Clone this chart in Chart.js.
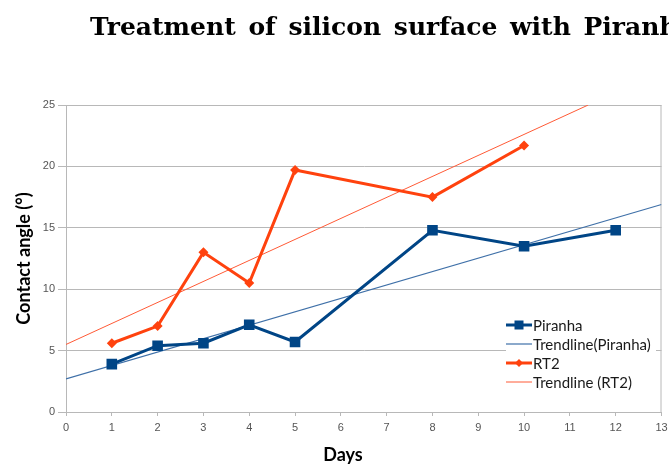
<!DOCTYPE html>
<html lang="en">
<head>
  <meta charset="UTF-8">
  <title>Treatment of silicon surface</title>
  <script src="https://cdn.jsdelivr.net/npm/chart.js"></script>
  <style>
    body {
      margin: 0;
      background: #ffffff;
      overflow: hidden;
    }
    .wrap {
      position: relative;
      width: 669px;
      height: 464px;
      overflow: hidden;
    }
    .title {
      position: absolute;
      left: 90px;
      top: 14px;
      white-space: nowrap;
      font-family: 'DejaVu Serif', serif;
      font-weight: bold;
      font-size: 25px;
      line-height: 1;
      word-spacing: 4px;
      color: #000;
    }
    canvas {
      position: absolute;
      left: 0;
      top: 0;
    }
  </style>
</head>
<body>

  <div class="wrap">
    <canvas id="angleChart" width="669" height="464"></canvas>
    <div class="title">Treatment of silicon surface with Piranha and RT2</div>
  </div>

  <script>
    // Contact angle measurements
    const piranhaDays = [1, 2, 3, 4, 5, 8, 10, 12];
    const piranhaAngle = [3.9, 5.4, 5.6, 7.1, 5.7, 14.8, 13.5, 14.8];

    const rt2Days = [1, 2, 3, 4, 5, 8, 10];
    const rt2Angle = [5.6, 7.0, 13.0, 10.5, 19.7, 17.5, 21.7];

    // Trendline end points
    const trendPiranhaX = [0, 13];
    const trendPiranhaY = [2.7, 16.9];
    const trendRt2X = [0, 11.4];
    const trendRt2Y = [5.5, 25];

    const yTicks = [0, 5, 10, 15, 20, 25];
    const xMax = 13;

    const blue = '#004586';
    const orange = '#ff420e';
    const gridGray = '#b8b8b8';

    const toPoints = (xs, ys) => xs.map((x, i) => ({ x: x, y: ys[i] }));

    // Frame round the plot area, plus the x axis caption
    const frame = {
      id: 'frame',
      beforeDatasetsDraw(chart) {
        const { ctx, chartArea: a } = chart;
        ctx.save();
        ctx.strokeStyle = gridGray;
        ctx.lineWidth = 1;
        ctx.strokeRect(a.left + 0.5, a.top + 0.5, a.right - a.left - 1, a.bottom - a.top);
        ctx.fillStyle = '#000';
        ctx.font = 'bold 18px Lato';
        ctx.textAlign = 'center';
        ctx.textBaseline = 'middle';
        ctx.fillText('Days', 343, 455);
        ctx.restore();
      }
    };

    // Legend with line + marker samples
    const sideLegend = {
      id: 'sideLegend',
      afterDatasetsDraw(chart) {
        const ctx = chart.ctx;
        const x0 = 506, y0 = 325, step = 19;
        ctx.save();
        ctx.fillStyle = '#ffffff';
        ctx.fillRect(x0, y0 - 10, 150, step * 4 + 2);
        chart.data.datasets.forEach((ds, i) => {
          const y = y0 + i * step;
          ctx.strokeStyle = ds.borderColor;
          ctx.lineWidth = ds.borderWidth;
          ctx.beginPath();
          ctx.moveTo(x0, y);
          ctx.lineTo(x0 + 26, y);
          ctx.stroke();
          ctx.fillStyle = ds.borderColor;
          const cx = x0 + 13;
          if (ds.pointStyle === 'rect') {
            ctx.fillRect(cx - 4.5, y - 4.5, 9, 9);
          } else if (ds.pointStyle === 'rectRot') {
            ctx.beginPath();
            ctx.moveTo(cx, y - 4);
            ctx.lineTo(cx + 4, y);
            ctx.lineTo(cx, y + 4);
            ctx.lineTo(cx - 4, y);
            ctx.closePath();
            ctx.fill();
          }
          ctx.fillStyle = '#1a1a1a';
          ctx.font = '15px Lato';
          ctx.textBaseline = 'middle';
          ctx.fillText(ds.label, x0 + 27, y + 1);
        });
        ctx.restore();
      }
    };

    new Chart(document.getElementById('angleChart'), {
      type: 'line',
      data: {
        datasets: [
          {
            label: 'Piranha',
            data: toPoints(piranhaDays, piranhaAngle),
            borderColor: blue,
            backgroundColor: blue,
            borderWidth: 3,
            pointStyle: 'rect',
            pointRadius: 7.5,
            pointBorderWidth: 0,
            order: 1
          },
          {
            label: 'Trendline(Piranha)',
            data: toPoints(trendPiranhaX, trendPiranhaY),
            borderColor: '#3f70a8',
            borderWidth: 1.2,
            pointRadius: 0,
            order: 3
          },
          {
            label: 'RT2',
            data: toPoints(rt2Days, rt2Angle),
            borderColor: orange,
            backgroundColor: orange,
            borderWidth: 3,
            pointStyle: 'rectRot',
            pointRadius: 5,
            pointBorderWidth: 0,
            order: 2
          },
          {
            label: 'Trendline (RT2)',
            data: toPoints(trendRt2X, trendRt2Y),
            borderColor: '#ff5a36',
            borderWidth: 1,
            pointRadius: 0,
            order: 4
          }
        ]
      },
      options: {
        responsive: false,
        animation: false,
        layout: {
          padding: { left: 13, top: 105, right: 7, bottom: 0 }
        },
        plugins: {
          legend: { display: false },
          tooltip: { enabled: false }
        },
        scales: {
          x: {
            type: 'linear',
            min: 0,
            max: xMax,
            afterFit: s => { s.height = 52; s.paddingRight = 0; },
            grid: {
              drawOnChartArea: false,
              drawTicks: true,
              tickLength: 4,
              color: gridGray
            },
            border: { color: gridGray },
            ticks: {
              stepSize: 1,
              padding: 5,
              color: '#555',
              font: { family: 'Liberation Sans', size: 11 }
            }
          },
          y: {
            min: 0,
            max: 25,
            afterFit: s => { s.width = 53; },
            afterBuildTicks: s => { s.ticks = yTicks.map(v => ({ value: v })); },
            grid: {
              color: gridGray,
              tickLength: 8
            },
            border: { color: gridGray },
            ticks: {
              padding: 3,
              color: '#555',
              font: { family: 'Liberation Sans', size: 11 }
            },
            title: {
              display: true,
              text: 'Contact angle (°)',
              color: '#000',
              padding: 0,
              font: { family: 'Lato', size: 18, weight: 'bold' }
            }
          }
        }
      },
      plugins: [frame, sideLegend]
    });
  </script>

</body>
</html>
